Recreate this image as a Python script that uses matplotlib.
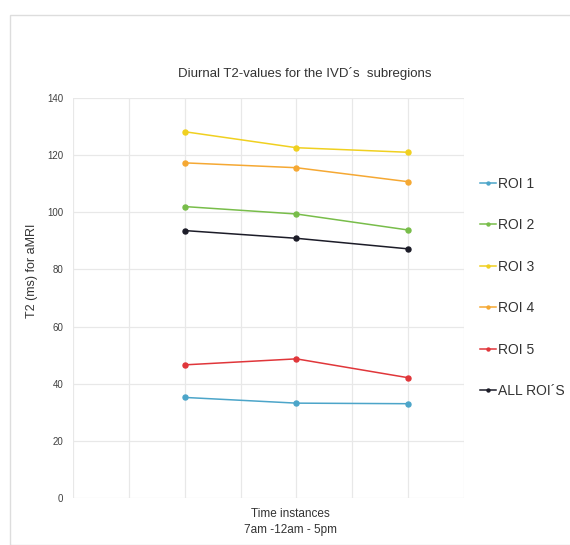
import matplotlib.pyplot as plt
import matplotlib as mpl
from matplotlib.patches import Rectangle

mpl.rc('font', family='Liberation Sans')

# %%
time_pos = [2, 4, 6]
series_names = ['ROI 1', 'ROI 2', 'ROI 3', 'ROI 4', 'ROI 5', 'ALL ROI´S']
roi1 = [35.2, 33.2, 33.0]
roi2 = [102.0, 99.4, 93.8]
roi3 = [128.2, 122.6, 121.0]
roi4 = [117.3, 115.6, 110.7]
roi5 = [46.6, 48.7, 42.1]
roi_all = [93.6, 90.9, 87.2]
colors = ['#4ca5c9', '#78bd4a', '#f0d020', '#f5a833', '#e0363a', '#1c1c28']
y_ticks = [0, 20, 40, 60, 80, 100, 120, 140]

# %%
fig = plt.figure(figsize=(5.7, 5.45), dpi=100)
ax = fig.add_axes([73/570, 1-498/545, (464-73)/570, 400/545])

for vals, name, c in zip([roi1, roi2, roi3, roi4, roi5, roi_all], series_names, colors):
    ax.plot(time_pos, vals, color=c, marker='o', markersize=3.6, linewidth=1.1, label=name)

ax.set_xlim(0, 7)
ax.set_ylim(0, 140)
ax.set_xticks(range(0, 8))
ax.set_xticklabels([])
ax.set_yticks(y_ticks)
ax.tick_params(length=0, labelsize=7, labelcolor='#404040', pad=7)
ax.grid(True, color='#e8e8e8', linewidth=0.9)
ax.set_axisbelow(True)
for s in ax.spines.values():
    s.set_visible(False)

fig.text(305/570, 1-73/545, 'Diurnal T2-values for the IVD´s  subregions',
         ha='center', va='center', fontsize=9.5, color='#333333')
fig.text(32/570, 1-271/545, 'T2 (ms) for aMRI', rotation=90,
         ha='center', va='center', fontsize=9, color='#333333')
fig.text(290/570, 1-514/545, 'Time instances', ha='center', va='center', fontsize=8.5, color='#333333')
fig.text(290/570, 1-530/545, '7am -12am - 5pm', ha='center', va='center', fontsize=8.5, color='#333333')

leg = fig.legend(loc='upper left', bbox_to_anchor=(474/570, 1-171/545), frameon=False,
                 fontsize=10, handlelength=1.2, handletextpad=0.15, labelspacing=1.98,
                 borderaxespad=0, markerscale=0.6)
for t in leg.get_texts():
    t.set_color('#333333')

fig.patches.append(Rectangle((10/570, 0), 1, 1-15/545, transform=fig.transFigure,
                             fill=False, edgecolor='#dddddd', linewidth=1))

plt.savefig('out.png', dpi=100)
